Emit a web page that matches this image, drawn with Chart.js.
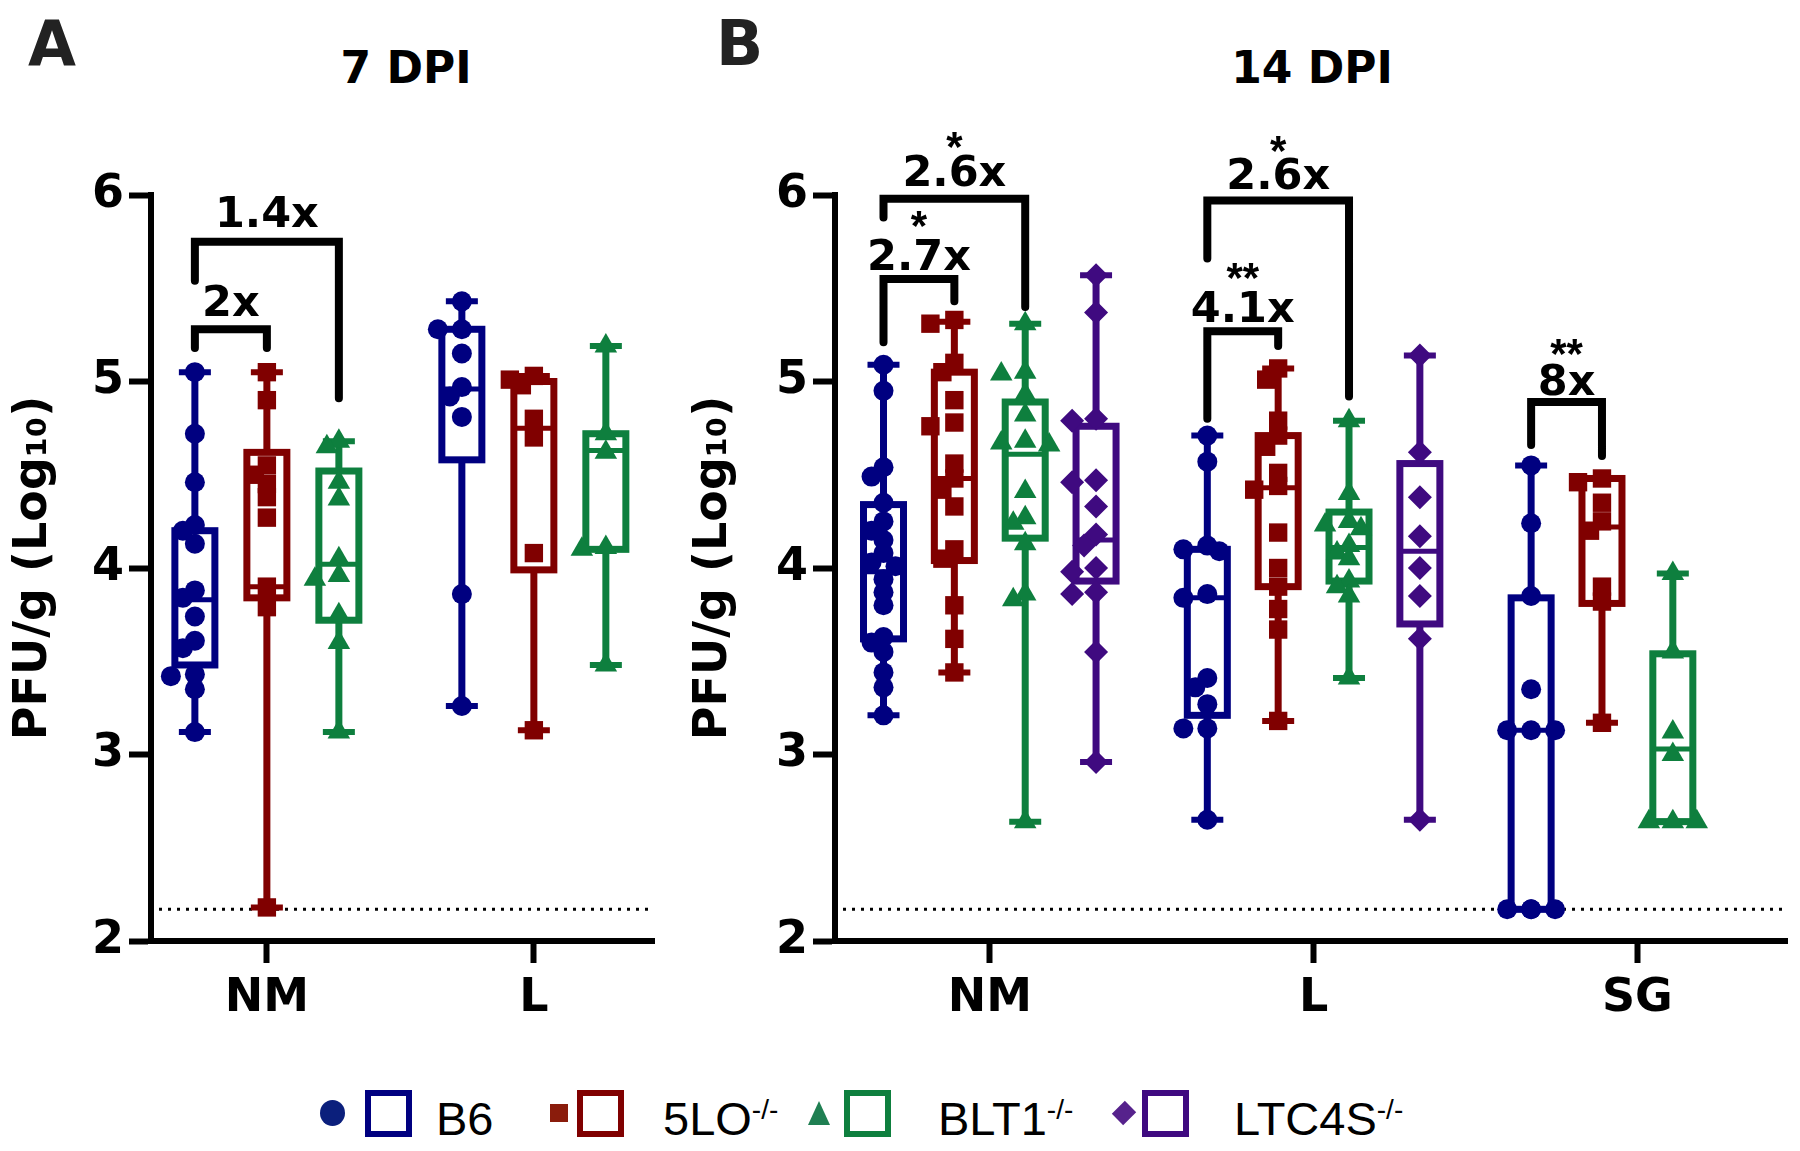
<!DOCTYPE html>
<html>
<head>
<meta charset="utf-8">
<script src="https://cdn.jsdelivr.net/npm/chart.js@4.4.1/dist/chart.umd.min.js"></script>
<style>
    body { margin: 0; background: #fff; width: 1800px; height: 1151px; position: relative; overflow: hidden; }
    .abs { position: absolute; }
    .letter { font: bold 62px 'DejaVu Sans', sans-serif; color: #222; line-height: 1; }
    .title { font: bold 44px 'DejaVu Sans', sans-serif; line-height: 1; width: 400px; text-align: center; color: #000; }
    .lg-text { font: 47px 'Liberation Sans', Arial, sans-serif; line-height: 1; color: #000; white-space: nowrap; }
    .lg-text sup { font-size: 28px; vertical-align: 16px; line-height: 0; }
    .lg-box { width: 47px; height: 47px; box-sizing: border-box; border: 6px solid; }
</style>
</head>
<body>
<div class="abs letter" style="left:28px; top:13px;">A</div>
<div class="abs letter" style="left:716px; top:13px;">B</div>
<div class="abs title" style="left:206px; top:46px;">7 DPI</div>
<div class="abs title" style="left:1112px; top:46px;">14 DPI</div>

<canvas id="panelA" class="abs" width="680" height="1060" style="left:0; top:0;"></canvas>
<canvas id="panelB" class="abs" width="1120" height="1060" style="left:680px; top:0;"></canvas>

<!-- legend -->
<div class="abs" style="left:320px; top:1100px; width:25px; height:26px; border-radius:50%; background:#0b1f7c;"></div>
<div class="abs lg-box" style="left:365px; top:1090px; border-color:#000080;"></div>
<div class="abs lg-text" style="left:436px; top:1095px;">B6</div>

<div class="abs" style="left:550px; top:1104px; width:18px; height:18px; background:#8a1c0c;"></div>
<div class="abs lg-box" style="left:577px; top:1090px; border-color:#800000;"></div>
<div class="abs lg-text" style="left:663px; top:1095px;">5LO<sup>-/-</sup></div>

<div class="abs" style="left:808px; top:1101px; width:0; height:0; border-left:11px solid transparent; border-right:11px solid transparent; border-bottom:24px solid #1f7f52;"></div>
<div class="abs lg-box" style="left:844px; top:1090px; border-color:#0e7f3e;"></div>
<div class="abs lg-text" style="left:938px; top:1095px;">BLT1<sup>-/-</sup></div>

<div class="abs" style="left:1116px; top:1105px; width:16px; height:16px; background:#56228c; transform:rotate(45deg) scaleY(1.15);"></div>
<div class="abs lg-box" style="left:1142px; top:1090px; border-color:#3f0a80;"></div>
<div class="abs lg-text" style="left:1234px; top:1095px;">LTC4S<sup>-/-</sup></div>

<script>
// ─── Data (log10 PFU/g) ─────────────────────────────────────────────
const CATS_A = ['NM', 'L'];
const CATS_B = ['NM', 'L', 'SG'];
const GROUPS = ['B6', '5LO-/-', 'BLT1-/-', 'LTC4S-/-'];
const Y_TICKS = [2, 3, 4, 5, 6];
const LOD = 2.17;

// 7 DPI, individual animals: [NM, L]
const A_B6 = [
    [5.05, 4.72, 4.46, 4.23, 4.20, 4.13, 3.88, 3.84, 3.74, 3.61, 3.57, 3.43, 3.42, 3.35, 3.12],
    [5.43, 5.28, 5.28, 5.15, 4.97, 4.92, 4.81, 3.86, 3.26]
];
const A_5LO = [
    [5.05, 4.90, 4.55, 4.50, 4.45, 4.38, 4.27, 3.90, 3.79, 2.18],
    [5.03, 5.01, 4.98, 4.80, 4.70, 4.08, 3.13]
];
const A_BLT1 = [
    [4.68, 4.65, 4.46, 4.37, 4.05, 3.96, 3.94, 3.75, 3.60, 3.12],
    [5.19, 4.72, 4.62, 4.11, 4.10, 3.48]
];

// 7 DPI box stats: [min, q1, median, q3, max]
const A_BOX_B6 = [[3.12, 3.48, 3.83, 4.20, 5.05], [3.26, 4.58, 4.96, 5.28, 5.43]];
const A_BOX_5LO = [[2.18, 3.84, 3.90, 4.62, 5.05], [3.13, 3.99, 4.75, 5.00, 5.03]];
const A_BOX_BLT1 = [[3.12, 3.72, 4.02, 4.52, 4.68], [3.48, 4.10, 4.63, 4.72, 5.19]];

// 14 DPI, individual animals: [NM, L, SG]
const B_B6 = [
    [5.09, 4.95, 4.54, 4.49, 4.35, 4.25, 4.20, 4.15, 4.08, 4.03, 4.01, 3.94, 3.87, 3.80, 3.63, 3.60, 3.55, 3.44, 3.36, 3.21],
    [4.71, 4.57, 4.12, 4.10, 4.09, 3.86, 3.84, 3.41, 3.36, 3.27, 3.14, 3.14, 2.65],
    [4.55, 4.24, 3.85, 3.35, 3.13, 3.13, 3.13, 2.17, 2.17, 2.17, 2.17]
];
const B_5LO = [
    [5.33, 5.31, 5.10, 5.05, 4.90, 4.78, 4.76, 4.56, 4.48, 4.42, 4.33, 4.10, 4.05, 3.80, 3.62, 3.44],
    [5.07, 5.01, 4.79, 4.71, 4.65, 4.51, 4.44, 4.42, 4.19, 4.00, 3.90, 3.78, 3.67, 3.18],
    [4.48, 4.46, 4.35, 4.25, 4.20, 3.90, 3.82, 3.17]
];
const B_BLT1 = [
    [5.31, 5.05, 5.04, 4.93, 4.82, 4.68, 4.67, 4.66, 4.41, 4.27, 4.24, 4.13, 3.86, 3.83, 2.64],
    [4.79, 4.40, 4.25, 4.23, 4.21, 4.12, 4.08, 4.05, 3.93, 3.90, 3.85, 3.41],
    [3.97, 3.55, 3.12, 3.00, 2.64, 2.64, 2.64]
];
const B_LTC4S = [
    [5.57, 5.37, 4.80, 4.79, 4.47, 4.46, 4.33, 4.18, 4.12, 4.00, 3.98, 3.87, 3.86, 3.55, 2.96],
    [5.14, 4.62, 4.38, 4.17, 4.00, 3.85, 3.62, 2.65],
    []
];

// 14 DPI box stats: [min, q1, median, q3, max]
const B_BOX_B6 = [[3.21, 3.62, 3.98, 4.34, 5.09], [2.65, 3.21, 3.84, 4.10, 4.71], [2.17, 2.17, 3.13, 3.84, 4.55]];
const B_BOX_5LO = [[3.44, 4.04, 4.48, 5.05, 5.32], [3.18, 3.90, 4.43, 4.71, 5.07], [3.17, 3.81, 4.22, 4.48, 4.48]];
const B_BOX_BLT1 = [[2.64, 4.16, 4.61, 4.89, 5.31], [3.41, 3.93, 4.11, 4.30, 4.79], [2.64, 2.64, 3.03, 3.54, 3.97]];
const B_BOX_LTC4S = [[2.96, 3.93, 4.15, 4.76, 5.57], [2.65, 3.70, 4.09, 4.56, 5.14], null];

// comparison brackets: [category, from group, to group, bar, left end, right end, label baseline]
const A_BRACKETS = [
    [0, 0, 2, 5.75, 5.54, 4.91, 5.83],
    [0, 0, 1, 5.28, 5.18, 5.18, 5.35]
];
const A_FOLDS = ['1.4x', '2x'];
const A_STARS = ['', ''];
const A_STAR_Y = [0, 0];

const B_BRACKETS = [
    [0, 0, 2, 5.98, 5.88, 5.40, 6.05],
    [0, 0, 1, 5.55, 5.21, 5.43, 5.60],
    [1, 0, 2, 5.97, 5.66, 4.92, 6.03],
    [1, 0, 1, 5.27, 4.80, 5.19, 5.32],
    [2, 0, 1, 4.89, 4.66, 4.60, 4.93]
];
const B_FOLDS = ['2.6x', '2.7x', '2.6x', '4.1x', '8x'];
const B_STARS = ['*', '*', '*', '**', '**'];
const B_STAR_Y = [6.31, 5.89, 6.29, 5.61, 5.20];

// ─── Styling ───────────────────────────────────────────────────────
const COLORS = ['#000080', '#800000', '#0e7f3e', '#3f0a80'];
const STYLES = ['circle', 'rect', 'triangle', 'rectRot'];
const RADII = [10, 13, 13, 12];
const BOLD = "'DejaVu Sans', sans-serif";
const Y_PX = 186.6; // px per log unit on both panels

// simple beeswarm so overlapping animals sit side by side
function swarm(vals, xPx) {
    const placed = [];
    const offs = new Array(vals.length).fill(0);
    const order = vals.map((v, i) => i).sort((a, b) => vals[b] - vals[a]);
    for (const i of order) {
        const py = vals[i] * Y_PX;
        let best = 0;
        for (const k of [0, -1, 1, -2, 2, -3, 3]) {
            const px = k * 12;
            if (placed.every(p => Math.hypot(p.x - px, p.y - py) >= 13)) { best = px; break; }
        }
        placed.push({ x: best, y: py });
        offs[i] = best / xPx;
    }
    return offs;
}

const boxPlugin = {
    id: 'boxes',
    beforeDatasetsDraw(chart) {
        const cfg = chart.options.plugins.boxes;
        const { ctx, chartArea } = chart;
        const xs = chart.scales.x, ys = chart.scales.y;
        ctx.save();
        // limit of detection
        ctx.setLineDash([3, 6]);
        ctx.lineWidth = 3;
        ctx.strokeStyle = '#000';
        const yl = ys.getPixelForValue(LOD);
        ctx.beginPath();
        ctx.moveTo(chartArea.left + 8, yl);
        ctx.lineTo(chartArea.right, yl);
        ctx.stroke();
        ctx.setLineDash([]);

        cfg.boxes.forEach((perCat, g) => {
            perCat.forEach((b, c) => {
                if (!b) return;
                const cx = xs.getPixelForValue(c + cfg.slotOff[g]);
                const [mn, q1, md, q3, mx] = b.map(v => ys.getPixelForValue(v));
                ctx.strokeStyle = COLORS[g];
                ctx.lineCap = 'butt';
                ctx.lineWidth = 7;
                ctx.beginPath();
                ctx.moveTo(cx, q3); ctx.lineTo(cx, mx);
                ctx.moveTo(cx, q1); ctx.lineTo(cx, mn);
                ctx.stroke();
                ctx.lineWidth = 6;
                ctx.beginPath();
                ctx.moveTo(cx - 16, mx); ctx.lineTo(cx + 16, mx);
                ctx.moveTo(cx - 16, mn); ctx.lineTo(cx + 16, mn);
                ctx.stroke();
                ctx.lineWidth = 7;
                ctx.strokeRect(cx - 20, q3, 40, q1 - q3);
                ctx.lineWidth = 5;
                ctx.beginPath();
                ctx.moveTo(cx - 20, md); ctx.lineTo(cx + 20, md);
                ctx.stroke();
            });
        });
        ctx.restore();
    },
    afterDatasetsDraw(chart) {
        const cfg = chart.options.plugins.boxes;
        const { ctx } = chart;
        const xs = chart.scales.x, ys = chart.scales.y;
        ctx.save();
        ctx.strokeStyle = '#000';
        ctx.fillStyle = '#000';
        ctx.lineWidth = 8;
        ctx.lineJoin = 'miter';
        ctx.lineCap = 'round';
        cfg.brackets.forEach((br, i) => {
            const [c, s0, s1, bar, e0, e1, base] = br;
            const x0 = xs.getPixelForValue(c + cfg.slotOff[s0]);
            const x1 = xs.getPixelForValue(c + cfg.slotOff[s1]);
            ctx.beginPath();
            ctx.moveTo(x0, ys.getPixelForValue(e0));
            ctx.lineTo(x0, ys.getPixelForValue(bar));
            ctx.lineTo(x1, ys.getPixelForValue(bar));
            ctx.lineTo(x1, ys.getPixelForValue(e1));
            ctx.stroke();
            ctx.textAlign = 'center';
            ctx.textBaseline = 'alphabetic';
            ctx.font = 'bold 43px ' + BOLD;
            ctx.fillText(cfg.folds[i], (x0 + x1) / 2, ys.getPixelForValue(base));
            if (cfg.stars[i]) {
                ctx.font = "bold 42px 'Liberation Sans', Arial, sans-serif";
                ctx.fillText(cfg.stars[i], (x0 + x1) / 2, ys.getPixelForValue(cfg.starY[i]) + 24);
            }
        });
        ctx.restore();
    }
};

function makePanel(id, cats, pts, boxes, slotOff, xMin, xMax, xPx, yWidth, padRight, brackets, folds, stars, starY) {
    const datasets = pts.map((perCat, g) => {
        const data = [];
        perCat.forEach((vals, c) => {
            const offs = swarm(vals, xPx);
            vals.forEach((v, i) => data.push({ x: c + slotOff[g] + offs[i], y: v }));
        });
        return {
            label: GROUPS[g],
            data,
            pointStyle: STYLES[g],
            pointRadius: RADII[g],
            pointBackgroundColor: COLORS[g],
            pointBorderColor: COLORS[g],
            pointBorderWidth: 0,
            showLine: false,
            clip: false
        };
    });

    new Chart(document.getElementById(id), {
        type: 'scatter',
        data: { datasets },
        plugins: [boxPlugin],
        options: {
            responsive: false,
            animation: false,
            layout: { padding: { top: 195, right: padRight, bottom: 0, left: 0 } },
            plugins: {
                legend: { display: false },
                tooltip: { enabled: false },
                boxes: { boxes, slotOff, brackets, folds, stars, starY }
            },
            scales: {
                x: {
                    type: 'linear',
                    min: xMin,
                    max: xMax,
                    afterBuildTicks: (s) => { s.ticks = cats.map((c, i) => ({ value: i })); },
                    afterFit: (s) => { s.height = 119; },
                    border: { display: true, color: '#000', width: 6 },
                    grid: { display: true, drawOnChartArea: false, drawTicks: true, tickLength: 22, tickWidth: 6, tickColor: '#000' },
                    ticks: {
                        autoSkip: false,
                        maxRotation: 0,
                        padding: 8,
                        color: '#000',
                        font: { family: BOLD, weight: 'bold', size: 46 },
                        callback: (v) => cats[v]
                    }
                },
                y: {
                    min: Y_TICKS[0],
                    max: Y_TICKS[Y_TICKS.length - 1],
                    afterBuildTicks: (s) => { s.ticks = Y_TICKS.map(v => ({ value: v })); },
                    afterFit: (s) => { s.width = yWidth; },
                    border: { display: true, color: '#000', width: 6 },
                    grid: { display: true, drawOnChartArea: false, drawTicks: true, tickLength: 22, tickWidth: 6, tickColor: '#000' },
                    ticks: {
                        padding: 5,
                        color: '#000',
                        font: { family: BOLD, weight: 'bold', size: 46 }
                    },
                    title: {
                        display: true,
                        text: 'PFU/g (Log₁₀)',
                        color: '#000',
                        padding: { top: 6, bottom: 0 },
                        font: { family: BOLD, weight: 'bold', size: 46 }
                    }
                }
            }
        }
    });
}

// panel A: 3 genotypes per tissue, 72 px apart, 267 px per tissue
const SLOT_A = [-72, 0, 72].map(p => p / 267);
makePanel('panelA', CATS_A, [A_B6, A_5LO, A_BLT1], [A_BOX_B6, A_BOX_5LO, A_BOX_BLT1],
    SLOT_A, -0.434, 1.450, 267, 151, 26, A_BRACKETS, A_FOLDS, A_STARS, A_STAR_Y);

// panel B: 4 genotype slots per tissue, 71 px apart, 324.5 px per tissue
const SLOT_B = [-1.5, -0.5, 0.5, 1.5].map(k => k * 71 / 324.5);
makePanel('panelB', CATS_B, [B_B6, B_5LO, B_BLT1, B_LTC4S], [B_BOX_B6, B_BOX_5LO, B_BOX_BLT1, B_BOX_LTC4S],
    SLOT_B, -0.478, 2.462, 324.5, 155, 11, B_BRACKETS, B_FOLDS, B_STARS, B_STAR_Y);
</script>
</body>
</html>
